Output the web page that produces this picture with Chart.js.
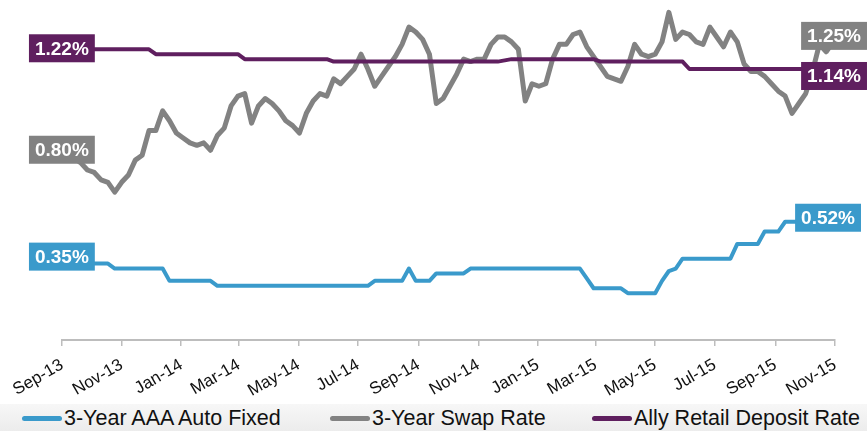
<!DOCTYPE html>
<html>
<head>
<meta charset="utf-8">
<title>Auto Loan Rates vs Swap and Deposit Rates</title>
<script src="https://cdn.jsdelivr.net/npm/chart.js@4.4.1/dist/chart.umd.min.js"></script>
<style>
    html, body { margin: 0; padding: 0; background: #fff; }
    #chart-wrap { position: relative; width: 867px; height: 431px; }
    #rates-chart { display: block; }
    #rates-legend {
        position: absolute; left: 0; top: 404px; width: 867px; height: 27px;
        background: linear-gradient(#f7f7f7, #ececec);
        font-family: "Liberation Sans", Arial, sans-serif; font-size: 21.5px; color: #111;
    }
    #rates-legend .item { display: flex; align-items: center; position: absolute; top: 2px; line-height: 24px; }
    #rates-legend .swatch { width: 40px; height: 5px; border-radius: 3px; margin-right: 2px; }
</style>
</head>
<body>
<div id="chart-wrap">
    <canvas id="rates-chart" width="867" height="431"></canvas>
    <div id="rates-legend"></div>
</div>
<script>
// Weekly observations; the first one falls on day 5 (days counted from 1 Sep 2013)
const firstDay = 5;

const autoFixed = [
    0.35, 0.35, 0.35, 0.35, 0.35, 0.35, 0.35,
    0.33, 0.33, 0.33, 0.33, 0.33, 0.33, 0.33, 0.33,
    0.28, 0.28, 0.28, 0.28, 0.28, 0.28, 0.28,
    0.26, 0.26, 0.26, 0.26, 0.26, 0.26, 0.26, 0.26, 0.26, 0.26, 0.26, 0.26,
    0.26, 0.26, 0.26, 0.26, 0.26, 0.26, 0.26, 0.26, 0.26, 0.26, 0.26,
    0.28, 0.28, 0.28, 0.28, 0.28, 0.33, 0.28, 0.28, 0.28,
    0.31, 0.31, 0.31, 0.31, 0.31,
    0.33, 0.33, 0.33, 0.33, 0.33, 0.33, 0.33, 0.33, 0.33, 0.33, 0.33, 0.33,
    0.33, 0.33, 0.33, 0.33, 0.33,
    0.29, 0.25, 0.25, 0.25, 0.25, 0.25,
    0.23, 0.23, 0.23, 0.23, 0.23,
    0.28, 0.32, 0.33,
    0.37, 0.37, 0.37, 0.37, 0.37, 0.37, 0.37, 0.37,
    0.43, 0.43, 0.43, 0.43,
    0.48, 0.48, 0.48,
    0.52, 0.52, 0.52, 0.52, 0.52, 0.52, 0.52, 0.52
];

const swapRate = [
    0.80, 0.78, 0.76, 0.73, 0.72, 0.69, 0.68, 0.64, 0.68, 0.71,
    0.77, 0.79, 0.89, 0.89, 0.97, 0.93, 0.88, 0.86, 0.84, 0.83,
    0.84, 0.81, 0.87, 0.90, 0.99, 1.03, 1.04, 0.92, 0.99, 1.02,
    1.00, 0.97, 0.93, 0.91, 0.88, 0.96, 1.01, 1.04, 1.03, 1.10,
    1.08, 1.11, 1.14, 1.20, 1.14, 1.07, 1.11, 1.15, 1.19, 1.24,
    1.31, 1.29, 1.26, 1.20, 1.00, 1.02, 1.07, 1.12, 1.18, 1.17,
    1.18, 1.18, 1.24, 1.27, 1.27, 1.25, 1.22, 1.01, 1.08, 1.07,
    1.08, 1.18, 1.24, 1.24, 1.28, 1.29, 1.23, 1.19, 1.15, 1.11,
    1.10, 1.09, 1.15, 1.24, 1.20, 1.19, 1.20, 1.25, 1.37, 1.26,
    1.29, 1.28, 1.25, 1.24, 1.31, 1.27, 1.23, 1.29, 1.25, 1.16,
    1.13, 1.13, 1.11, 1.08, 1.05, 1.03, 0.96, 1.00, 1.04, 1.13,
    1.24, 1.21, 1.25
];

const depositRate = [
    1.22, 1.22, 1.22, 1.22, 1.22, 1.22, 1.22, 1.22, 1.22, 1.22, 1.22, 1.22, 1.22,
    1.20, 1.20, 1.20, 1.20, 1.20, 1.20, 1.20, 1.20, 1.20, 1.20, 1.20, 1.20, 1.20,
    1.18, 1.18, 1.18, 1.18, 1.18, 1.18, 1.18, 1.18, 1.18, 1.18, 1.18, 1.18, 1.18,
    1.17, 1.17, 1.17, 1.17, 1.17, 1.17, 1.17, 1.17, 1.17, 1.17, 1.17, 1.17, 1.17,
    1.17, 1.17, 1.17, 1.17, 1.17, 1.17, 1.17, 1.17, 1.17, 1.17, 1.17, 1.17,
    1.175,
    1.18, 1.18, 1.18, 1.18, 1.18, 1.18, 1.18, 1.18, 1.18, 1.18, 1.18, 1.18, 1.18,
    1.17, 1.17, 1.17, 1.17, 1.17, 1.17, 1.17, 1.17, 1.17, 1.17, 1.17, 1.17, 1.17,
    1.14, 1.14, 1.14, 1.14, 1.14, 1.14, 1.14, 1.14, 1.14, 1.14, 1.14,
    1.14, 1.14, 1.14, 1.14, 1.14, 1.14, 1.14, 1.14, 1.14, 1.14, 1.14
];

// x-axis ticks every two months, in days from 1 Sep 2013
const tickDays = [0, 61, 122, 181, 242, 303, 365, 426, 487, 546, 607, 668, 730, 791];
const tickLabels = ['Sep-13', 'Nov-13', 'Jan-14', 'Mar-14', 'May-14', 'Jul-14', 'Sep-14',
                    'Nov-14', 'Jan-15', 'Mar-15', 'May-15', 'Jul-15', 'Sep-15', 'Nov-15'];

const seriesNames = ['3-Year AAA Auto Fixed', '3-Year Swap Rate', 'Ally Retail Deposit Rate'];
const seriesColors = ['#3a9acb', '#828282', '#5f1f5f'];

const FONT = '"Liberation Sans", Arial, sans-serif';

function toPoints(values) {
    return values.map((v, i) => ({ x: firstDay + 7 * i, y: v }));
}

// Value boxes at the start and end of each line
const endLabels = [
    { dataset: 2, end: 'first', dx: -5, dy: -1 },
    { dataset: 1, end: 'first', dx: -5, dy: -3 },
    { dataset: 0, end: 'first', dx: -5, dy: -7 },
    { dataset: 1, end: 'last', dx: 1, dy: -6 },
    { dataset: 2, end: 'last', dx: 1, dy: 7 },
    { dataset: 0, end: 'last', dx: -5, dy: -4 }
];

const endLabelPlugin = {
    id: 'endLabels',
    afterDatasetsDraw(chart) {
        const ctx = chart.ctx;
        ctx.save();
        ctx.font = 'bold 19px ' + FONT;
        ctx.textAlign = 'center';
        ctx.textBaseline = 'middle';
        endLabels.forEach(lbl => {
            const ds = chart.data.datasets[lbl.dataset];
            const meta = chart.getDatasetMeta(lbl.dataset);
            const idx = lbl.end === 'first' ? 0 : ds.data.length - 1;
            const pt = meta.data[idx];
            const text = ds.data[idx].y.toFixed(2) + '%';
            const w = ctx.measureText(text).width + 12;
            const h = 28;
            const cx = pt.x + lbl.dx;
            const cy = pt.y + lbl.dy;
            ctx.fillStyle = ds.borderColor;
            ctx.fillRect(cx - w / 2, cy - h / 2, w, h);
            ctx.fillStyle = '#ffffff';
            ctx.fillText(text, cx, cy + 1);
        });
        ctx.restore();
    }
};

// Legend lives in HTML under the plot
const legendSpots = [22, 330, 592];
const htmlLegendPlugin = {
    id: 'htmlLegend',
    afterUpdate(chart) {
        const box = document.getElementById('rates-legend');
        box.innerHTML = '';
        chart.data.datasets.forEach((ds, i) => {
            const item = document.createElement('span');
            item.className = 'item';
            item.style.left = legendSpots[i] + 'px';
            const swatch = document.createElement('span');
            swatch.className = 'swatch';
            swatch.style.background = ds.borderColor;
            const label = document.createElement('span');
            label.textContent = ds.label;
            item.appendChild(swatch);
            item.appendChild(label);
            box.appendChild(item);
        });
    }
};

const ctx = document.getElementById('rates-chart');
new Chart(ctx, {
    type: 'line',
    data: {
        datasets: [
            { label: seriesNames[0], data: toPoints(autoFixed), borderColor: seriesColors[0], borderWidth: 4, order: 2 },
            { label: seriesNames[1], data: toPoints(swapRate), borderColor: seriesColors[1], borderWidth: 5, order: 1 },
            { label: seriesNames[2], data: toPoints(depositRate), borderColor: seriesColors[2], borderWidth: 4, order: 0 }
        ]
    },
    options: {
        responsive: false,
        animation: false,
        layout: { padding: { left: 62, right: 32, top: 0, bottom: 27 } },
        elements: {
            point: { radius: 0 },
            line: { tension: 0, borderJoinStyle: 'round', borderCapStyle: 'round', fill: false }
        },
        plugins: {
            legend: { display: false },
            tooltip: { enabled: false }
        },
        scales: {
            x: {
                type: 'linear',
                min: 0,
                max: 791,
                afterBuildTicks: scale => {
                    scale.ticks = tickDays.map(v => ({ value: v }));
                },
                afterFit: scale => {
                    scale.height = 64;
                },
                ticks: {
                    autoSkip: false,
                    minRotation: 30,
                    maxRotation: 30,
                    padding: 9,
                    color: '#111',
                    font: { family: FONT, size: 17 },
                    callback: (value, index) => tickLabels[index]
                },
                grid: { drawOnChartArea: false, drawTicks: true, tickLength: 6, color: '#bdbdbd', lineWidth: 1.5 },
                border: { display: true, color: '#bdbdbd', width: 2 }
            },
            y: {
                display: false,
                min: 0.04,
                max: 1.42
            }
        }
    },
    plugins: [endLabelPlugin, htmlLegendPlugin]
});
</script>
</body>
</html>
